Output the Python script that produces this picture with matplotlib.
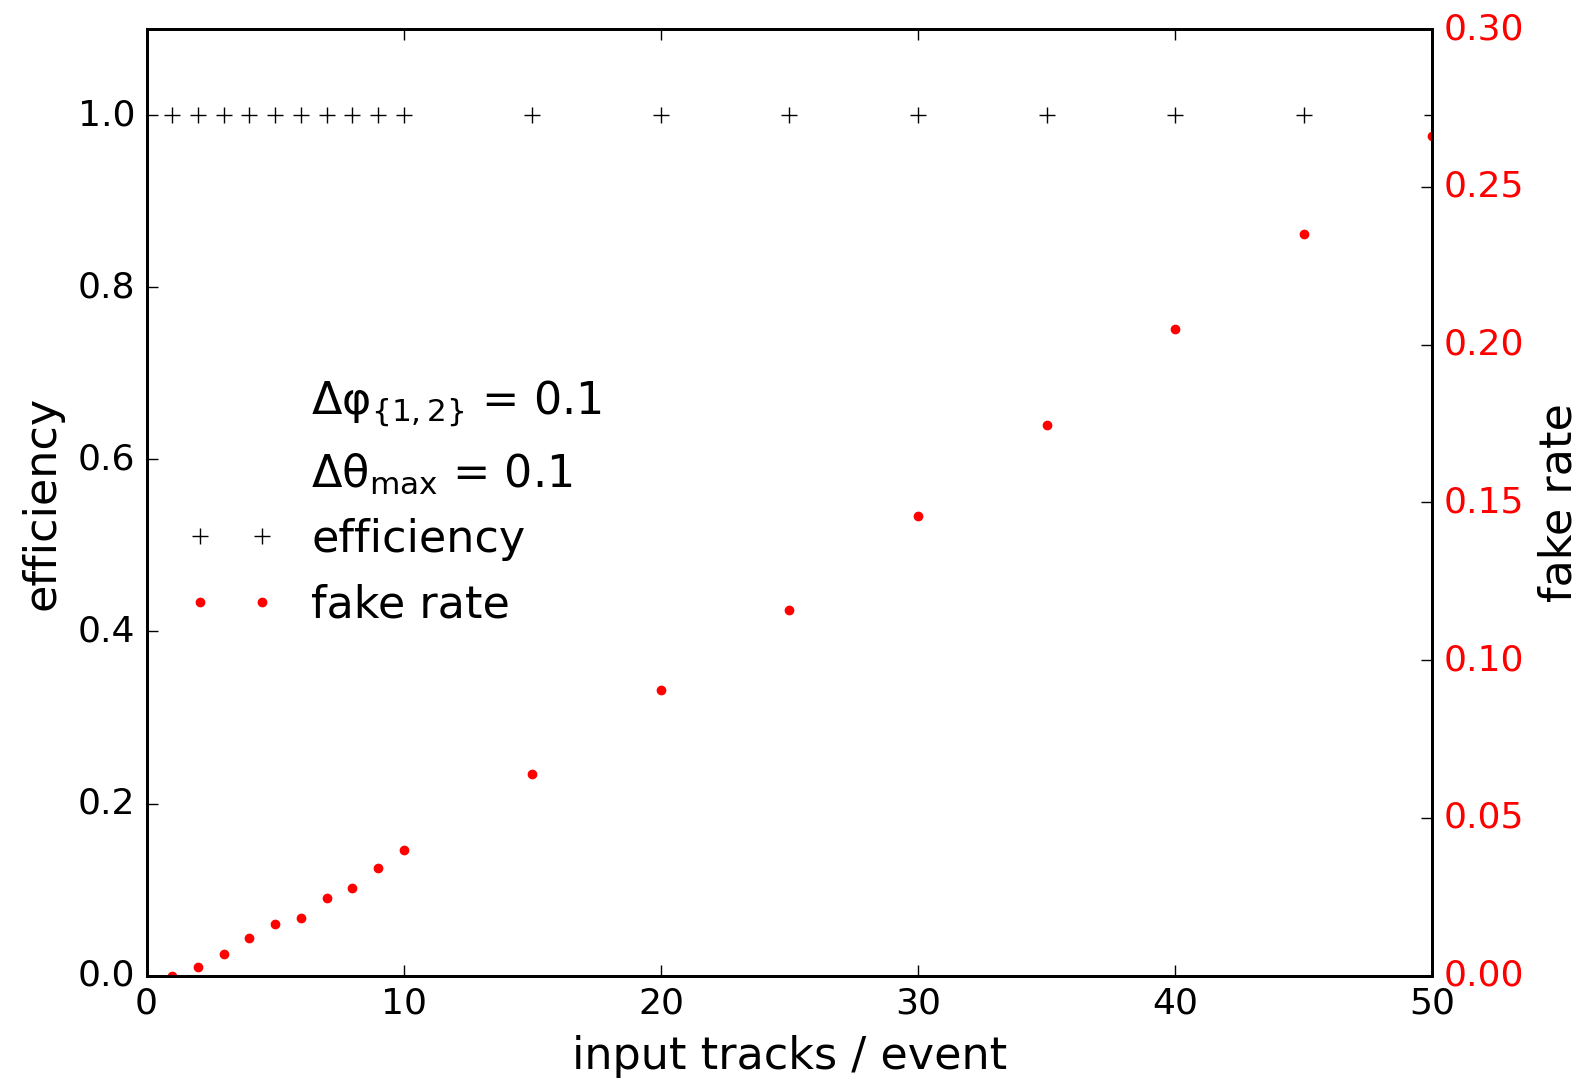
import numpy as np
import matplotlib
matplotlib.use('Agg')
import matplotlib.pyplot as plt
from matplotlib.lines import Line2D

plt.style.use('classic')
plt.rcParams['mathtext.fontset'] = 'dejavusans'
plt.rcParams['mathtext.default'] = 'regular'

# input tracks per event
tracks = [1, 2, 3, 4, 5, 6, 7, 8, 9, 10, 15, 20, 25, 30, 35, 40, 45, 50]
efficiency = [1.0] * len(tracks)
fake_rate = [0.0, 0.0029, 0.0069, 0.012, 0.0165, 0.0183, 0.0245, 0.0279, 0.034, 0.040,
             0.064, 0.0906, 0.116, 0.1457, 0.1745, 0.205, 0.235, 0.266]

fig = plt.figure(figsize=(7.925, 5.395), dpi=200, facecolor='white')
ax = fig.add_axes([0.0925, 0.0957, 0.9037 - 0.0925, 0.9731 - 0.0957])
ax.set_facecolor('white')
l1, = ax.plot(tracks, efficiency, 'k+', markersize=6, label='efficiency')
ax.set_xlim(0, 50)
ax.set_ylim(0, 1.1)
ax.set_yticks([0.0, 0.2, 0.4, 0.6, 0.8, 1.0])
ax.set_xlabel('input tracks / event', fontsize=16)
ax.set_ylabel('efficiency', fontsize=16)
ax.tick_params(labelsize=13)

ax2 = ax.twinx()
l2, = ax2.plot(tracks, fake_rate, 'r.', markersize=6, label='fake rate')
ax2.set_ylim(0, 0.3)
ax2.set_xlim(0, 50)
ax2.set_ylabel('fake rate', fontsize=16)
ax2.tick_params(labelsize=13, labelcolor='red')

cut1 = Line2D([], [], linestyle='none', label=r'Δφ$_{\{1,2\}}$ = 0.1')
cut2 = Line2D([], [], linestyle='none', label=r'Δθ$_{max}$ = 0.1')
ax2.legend(handles=[cut1, cut2, l1, l2], loc='center left', frameon=False,
           fontsize=16, numpoints=2)

fig.savefig('out.png', dpi=200, facecolor='white')
